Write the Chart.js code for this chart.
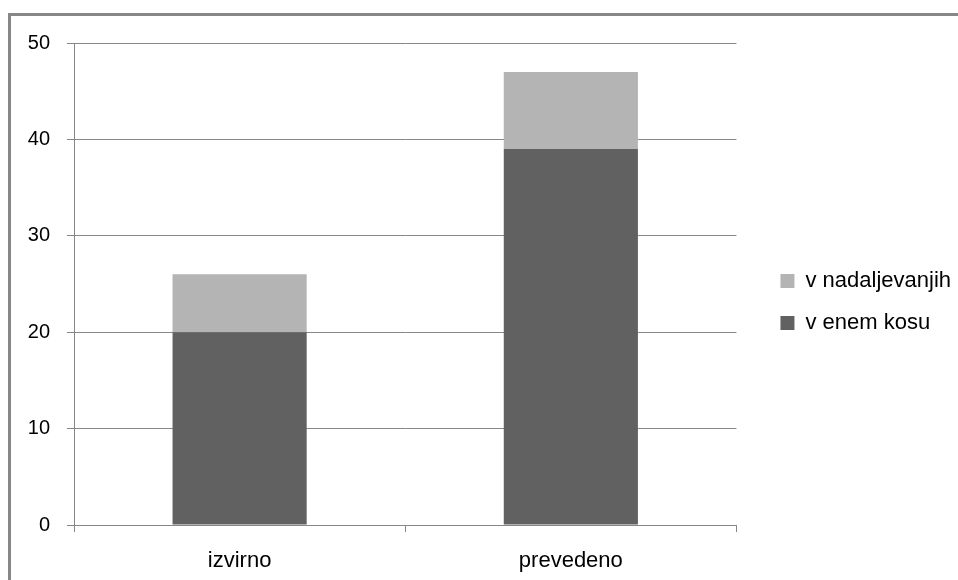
<!DOCTYPE html>
<html>
<head>
<meta charset="utf-8">
<script src="https://cdn.jsdelivr.net/npm/chart.js@4/dist/chart.umd.min.js"></script>
<style>
  html, body { margin: 0; padding: 0; background: #fff; overflow: hidden; }
  #frame { position: absolute; left: 8px; top: 13px; width: 1000px; height: 1000px;
           border: 3px solid #878787; box-sizing: border-box; }
  #wrap { position: absolute; left: 0; top: 0; width: 958px; height: 580px; }
</style>
</head>
<body>
<div id="frame"></div>
<div id="wrap"><canvas id="c" width="958" height="580"></canvas></div>
<script>
// Categories and stacked series
const categories = ['izvirno', 'prevedeno'];
const labelEnemKosu = 'v enem kosu';
const labelNadaljevanjih = 'v nadaljevanjih';
const enemKosu = [20, 39];
const nadaljevanjih = [6, 8];
const yTickValues = [0, 10, 20, 30, 40, 50];

const FONT = 'Liberation Sans, Arial, sans-serif';
const GRID = '#878787';

// Leaves a gap between the plot and the legend, and lifts the legend block a little
const legendPlacement = {
  id: 'legendPlacement',
  afterLayout(chart) {
    const lg = chart.legend;
    if (!lg) return;
    lg.left += 24;
    lg.right += 24;
    lg.bottom -= 19;
    lg.height -= 19;
  }
};

new Chart(document.getElementById('c'), {
  type: 'bar',
  data: {
    labels: categories,
    datasets: [
      { label: labelEnemKosu, data: enemKosu, backgroundColor: '#616161',
        barPercentage: 0.405, categoryPercentage: 1 },
      { label: labelNadaljevanjih, data: nadaljevanjih, backgroundColor: '#b4b4b4',
        barPercentage: 0.405, categoryPercentage: 1 }
    ]
  },
  plugins: [legendPlacement],
  options: {
    responsive: false,
    animation: false,
    layout: { padding: { top: 43, left: 10, right: 21, bottom: 0 } },
    plugins: {
      tooltip: { enabled: false },
      legend: {
        position: 'right',
        align: 'center',
        reverse: true,
        labels: {
          boxWidth: 14, boxHeight: 14, padding: 20,
          color: '#000',
          font: { family: FONT, size: 22 }
        }
      }
    },
    scales: {
      x: {
        stacked: true,
        offset: true,
        grid: { display: true, drawOnChartArea: false, drawTicks: true, tickLength: 7,
                color: GRID, offset: true },
        border: { display: true, color: GRID },
        ticks: { color: '#000', padding: 16, font: { family: FONT, size: 22 } },
        afterFit: s => { s.height = 55; }
      },
      y: {
        stacked: true,
        min: 0, max: 50,
        afterBuildTicks: s => { s.ticks = yTickValues.map(v => ({ value: v })); },
        grid: { color: GRID, tickLength: 7, drawTicks: true },
        border: { display: true, color: GRID },
        ticks: { color: '#000', padding: 17, font: { family: FONT, size: 20 } },
        afterFit: s => { s.width = 64; }
      }
    }
  }
});
</script>
</body>
</html>
